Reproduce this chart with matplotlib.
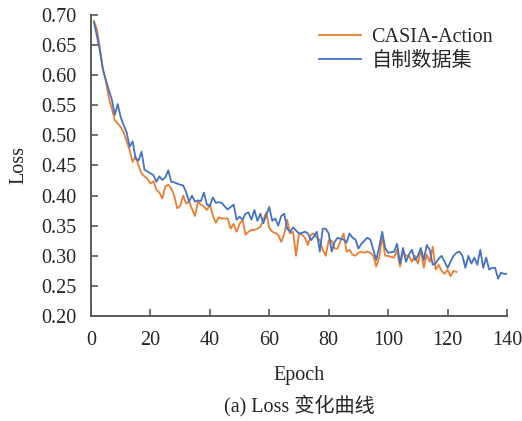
import matplotlib
matplotlib.use("Agg")
import matplotlib.pyplot as plt
import numpy as np

# ------------------------------------------------------------
# DATA
# ------------------------------------------------------------

own_loss = [
    0.688, 0.665, 0.640, 0.610, 0.592, 0.575, 0.560, 0.534, 0.552, 0.530,
    0.517, 0.505, 0.481, 0.490, 0.462, 0.458, 0.473, 0.443, 0.440, 0.437,
    0.434, 0.423, 0.432, 0.426, 0.430, 0.442, 0.423, 0.422, 0.420, 0.418,
    0.417, 0.406, 0.390, 0.400, 0.390, 0.392, 0.391, 0.405, 0.385, 0.383,
    0.397, 0.388, 0.389, 0.388, 0.382, 0.377, 0.381, 0.385, 0.360, 0.365,
    0.360, 0.370, 0.372, 0.360, 0.376, 0.358, 0.370, 0.354, 0.368, 0.381,
    0.358, 0.362, 0.350, 0.366, 0.370, 0.345, 0.340, 0.347, 0.342, 0.337,
    0.338, 0.340, 0.337, 0.326, 0.332, 0.340, 0.307, 0.345, 0.345, 0.337,
    0.307, 0.323, 0.330, 0.328, 0.327, 0.322, 0.337, 0.330, 0.327, 0.312,
    0.320, 0.325, 0.330, 0.327, 0.310, 0.293, 0.315, 0.340, 0.313, 0.305,
    0.306, 0.307, 0.320, 0.287, 0.313, 0.290, 0.302, 0.310, 0.293, 0.300,
    0.313, 0.293, 0.318, 0.310, 0.285, 0.288, 0.295, 0.300, 0.290, 0.280,
    0.290, 0.300, 0.305, 0.307, 0.300, 0.280, 0.300, 0.287, 0.297, 0.285,
    0.310, 0.280, 0.297, 0.277, 0.280, 0.280, 0.262, 0.272, 0.270, 0.270,
]

casia_loss = [
    0.690, 0.676, 0.645, 0.610, 0.590, 0.562, 0.545, 0.525, 0.520, 0.514,
    0.505, 0.490, 0.476, 0.456, 0.465, 0.450, 0.437, 0.432, 0.428, 0.420,
    0.424, 0.410, 0.405, 0.395, 0.415, 0.418, 0.412, 0.400, 0.379, 0.383,
    0.400, 0.387, 0.390, 0.378, 0.366, 0.390, 0.385, 0.382, 0.376, 0.385,
    0.367, 0.355, 0.364, 0.362, 0.362, 0.362, 0.345, 0.353, 0.340, 0.353,
    0.360, 0.335, 0.340, 0.343, 0.343, 0.345, 0.348, 0.360, 0.372, 0.346,
    0.340, 0.338, 0.335, 0.323, 0.335, 0.360, 0.337, 0.340, 0.300, 0.337,
    0.335, 0.330, 0.318, 0.335, 0.337, 0.330, 0.326, 0.310, 0.300, 0.326,
    0.325, 0.312, 0.312, 0.325, 0.337, 0.307, 0.310, 0.302, 0.300, 0.305,
    0.307, 0.305, 0.307, 0.305, 0.300, 0.282, 0.297, 0.332, 0.300, 0.300,
    0.298, 0.297, 0.310, 0.282, 0.307, 0.300, 0.300, 0.290, 0.300, 0.287,
    0.310, 0.280, 0.302, 0.290, 0.315, 0.277, 0.285, 0.275, 0.270, 0.277,
    0.266, 0.275, 0.273,
]

own_epochs = np.arange(1, len(own_loss) + 1)
casia_epochs = np.arange(1, len(casia_loss) + 1)

x_ticks = [0, 20, 40, 60, 80, 100, 120, 140]
y_ticks = [0.20, 0.25, 0.30, 0.35, 0.40, 0.45, 0.50, 0.55, 0.60, 0.65, 0.70]

# ------------------------------------------------------------
# STYLE
# ------------------------------------------------------------

FONT_SIZE = 14.5
plt.rcParams["font.family"] = ["Liberation Serif", "Noto Sans CJK SC"]
plt.rcParams["font.size"] = FONT_SIZE

AXIS_COLOR = "#595959"
TEXT_COLOR = "#262626"
ORANGE = "#ED7D31"
BLUE = "#4472C4"

# ------------------------------------------------------------
# PLOT
# ------------------------------------------------------------

fig = plt.figure(figsize=(5.22, 4.21), dpi=100)
ax = fig.add_axes([91 / 522, 1 - 316 / 421, 416 / 522, 301 / 421])

ax.plot(casia_epochs, casia_loss, color=ORANGE, linewidth=1.3,
        label="CASIA-Action")
ax.plot(own_epochs, own_loss, color=BLUE, linewidth=1.3,
        label="自制数据集")

ax.set_xlim(0, 140)
ax.set_ylim(0.20, 0.70)
ax.set_xticks(x_ticks)
ax.set_yticks(y_ticks)
ax.set_yticklabels([f"{v:.2f}" for v in y_ticks])

for side in ["top", "right"]:
    ax.spines[side].set_visible(False)
for side in ["left", "bottom"]:
    ax.spines[side].set_color(AXIS_COLOR)
    ax.spines[side].set_linewidth(1.4)

ax.tick_params(direction="in", length=5, width=1.2, color=AXIS_COLOR,
               labelcolor=TEXT_COLOR, labelsize=FONT_SIZE)
ax.tick_params(axis="x", pad=11)
ax.tick_params(axis="y", pad=10.5)

ax.set_xlabel("Epoch", color=TEXT_COLOR, fontsize=FONT_SIZE, labelpad=11)
ax.set_ylabel("Loss", color=TEXT_COLOR, fontsize=FONT_SIZE, labelpad=9)

legend = ax.legend(
    loc="upper left",
    bbox_to_anchor=(319 / 522, 1 - 28 / 421),
    bbox_transform=fig.transFigure,
    frameon=False,
    handlelength=2.1,
    handletextpad=0.5,
    labelspacing=0.25,
    borderpad=0,
    borderaxespad=0,
    fontsize=FONT_SIZE,
)
for text in legend.get_texts():
    text.set_color(TEXT_COLOR)

fig.text(299 / 522, 1 - 406 / 421, "(a) Loss 变化曲线",
         ha="center", va="center", color=TEXT_COLOR, fontsize=FONT_SIZE)

fig.savefig("out.png", dpi=100)
